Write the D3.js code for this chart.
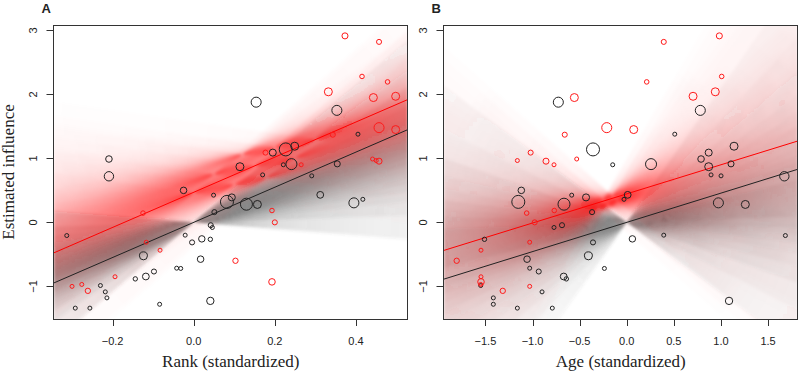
<!DOCTYPE html>
<html lang="en">
<head>
<meta charset="utf-8">
<title>Estimated influence vs rank and age</title>
<script src="https://cdn.jsdelivr.net/npm/d3@7"></script>
<style>
  body { margin: 0; background: #fff; }
  text { fill: #222; }
  .tick-label { font: 11px "Liberation Sans", Arial, sans-serif; }
  .axis-title { font: 17px "Liberation Serif", "Times New Roman", serif; }
  .panel-label { font: bold 13px "Liberation Sans", Arial, sans-serif; }
</style>
</head>
<body>
<script>
// ---- individuals: estimated influence, standardized rank and age, group, weight ----
const influence = [
  0.99, 0.72, 0.50, 0.425, 0.32, 0.39, 0.284, 0.28, 0.43, 0.305,
  0.36, 0.16, -0.044, -0.08, -0.206, -0.20, -0.258, -0.265, -0.313, -0.523,
  -0.575, -0.716, -0.72, -0.768, -0.846, -0.883, -0.987, -1.086, -1.18, -1.34,
  -1.34, -1.28, -1.227, 1.878, 1.75, 1.378, 1.09, 1.14, 1.19, 0.90,
  0.91, 0.87, 0.742, 0.727, 0.914,
  0.145, 0.185, 0.0, -0.31, -0.435, -0.60, -0.85, -0.93, -1.0, -0.97,
  -1.07, 2.914, 2.82, 2.28, 2.195, 2.04, 1.95, 1.97, 1.48, 1.45,
  1.37, 1.09, 0.90, 0.99, 0.956, 0.966
];
const rank = [
  -0.209, -0.209, -0.025, 0.049, 0.082, 0.094, 0.130, 0.157, 0.312, 0.395,
  0.417, 0.051, 0.042, 0.046, -0.313, -0.021, 0.020, 0.041, -0.004, -0.124,
  0.017, -0.042, -0.032, -0.098, -0.118, -0.144, -0.230, -0.218, -0.214, -0.292,
  -0.256, -0.084, 0.041, 0.154, 0.353, 0.405, 0.195, 0.227, 0.249, 0.221,
  0.241, 0.114, 0.170, 0.291, 0.354,
  -0.125, 0.193, 0.200, -0.117, -0.083, 0.103, -0.194, 0.193, -0.300, -0.276,
  -0.261, 0.373, 0.457, 0.415, 0.478, 0.332, 0.443, 0.498, 0.457, 0.498,
  0.343, 0.177, 0.265, 0.441, 0.457, 0.450
];
const age = [
  0.789, 1.673, -1.119, -0.584, -1.151, -0.432, -0.666, 1.259, 0.010, 0.973,
  -0.029, -0.368, -0.687, -0.772, 1.684, 0.393, 0.060, -1.510, -0.358, -0.407,
  -1.058, -1.030, -0.237, -0.934, -0.669, -0.641, -1.550, -0.899, -1.416, -1.161,
  -0.790, -1.416, 1.086, -0.726, 0.781, 0.510, 0.870, -0.358, 1.139, -0.149,
  0.258, 0.870, 0.895, 1.001, 1.107,
  -1.062, -0.769, -0.977, -1.030, -1.547, -1.805, -1.547, -1.547, -1.030, -1.550,
  -1.316, 0.983, 0.393, 1.008, 0.212, 0.940, -0.556, 0.704, -0.212, 0.074,
  -0.658, -1.020, -0.772, -0.531, -0.857, -1.161
];
const group = [
  0,0,0,0,0,0,0,0,0,0, 0,0,0,0,0,0,0,0,0,0, 0,0,0,0,0,0,0,0,0,0,
  0,0,0,0,0,0,0,0,0,0, 0,0,0,0,0,
  1,1,1,1,1,1,1,1,1,1, 1,1,1,1,1,1,1,1,1,1, 1,1,1,1,1,1
];
const weight = [
  2.7, 5.5, 2.7, 1, 10.6, 3.1, 9, 4, 2.9, 6.3,
  1, 1.6, 1.6, 1, 1, 1, 2.6, 1.2, 1.6, 4,
  2.7, 1, 1, 1.6, 2.9, 1.2, 1, 1, 1, 1,
  1, 1, 3.4, 6.3, 6.3, 1, 3.1, 10.6, 4, 1,
  7.6, 4, 1, 1, 2.3,
  1.3, 1.3, 1.6, 1, 1, 1.8, 1, 2.7, 1, 1,
  1.8, 2.3, 1.6, 1.3, 1.3, 4, 4, 4, 6.3, 4,
  1.6, 1.6, 1, 1, 2.3, 1
];

// ---- fitted lines [intercept, slope] ----
const rankFitBlack = [0, 2.745];
const rankFitRed = [0.47, 2.745];
const ageFitBlack = [0, 0.457];
const ageFitRed = [0.445, 0.455];

// ---- posterior slope draws (sorted) for the fans ----
const rankSlopesBlack = [-0.5, 0.2, 0.6, 0.9, 1.12, 1.3, 1.45, 1.58, 1.7, 1.8, 1.9, 1.99, 2.08, 2.16, 2.24,
  2.32, 2.4, 2.48, 2.57, 2.66, 2.76, 2.87, 2.99, 3.12, 3.28, 3.46, 3.7, 4.0, 4.5, 5.4];
const rankSlopesRed = [-0.9, -0.1, 0.4, 0.75, 1.0, 1.2, 1.36, 1.5, 1.62, 1.73, 1.83, 1.92, 2.01, 2.1, 2.18,
  2.27, 2.36, 2.45, 2.55, 2.65, 2.76, 2.88, 3.01, 3.16, 3.34, 3.56, 3.82, 4.2, 4.7, 5.6];
const ageSlopesBlack = [-1.1, -0.75, -0.52, -0.38, -0.27, -0.18, -0.11, -0.05, 0.0, 0.05, 0.09, 0.13, 0.17, 0.21, 0.25,
  0.29, 0.33, 0.37, 0.42, 0.47, 0.52, 0.58, 0.65, 0.73, 0.83, 0.95, 1.1, 1.3, 1.6, 2.1];
const ageSlopesRed = [-1.3, -0.85, -0.55, -0.35, -0.2, -0.09, 0.0, 0.07, 0.14, 0.2, 0.26, 0.31, 0.36, 0.41, 0.46,
  0.51, 0.56, 0.61, 0.67, 0.73, 0.8, 0.87, 0.95, 1.04, 1.15, 1.28, 1.45, 1.7, 2.0, 2.5];
// points the lines of each fan turn around
const rankPivotsBlack = [[0, 0]];
const rankPivotsRed = [[0.0, 0.46], [0.05, 0.75], [0.1, 0.59], [0.15, 0.88], [0.2, 1.17],
  [0.25, 1.01], [0.3, 1.30], [0.12, 1.06], [0.18, 0.70]];
const agePivotsBlack = [[0, 0]];
const agePivotsRed = [[-0.3, 0.24], [-0.25, 0.36], [-0.2, 0.28], [-0.15, 0.42], [-0.1, 0.34]];

const yTicks = [-1, 0, 1, 2, 3];
const rankTicks = [-0.2, 0, 0.2, 0.4];
const ageTicks = [-1.5, -1, -0.5, 0, 0.5, 1, 1.5];

// ---- layout ----
const width = 800, height = 374;
const svg = d3.select("body").append("svg")
    .attr("width", width)
    .attr("height", height);
svg.append("rect").attr("width", width).attr("height", height).attr("fill", "#fff");
const defs = svg.append("defs");

const y = d3.scaleLinear().domain([-1.51, 3.084]).range([319, 25]);
const radius = d3.scaleSqrt().domain([0, 1]).range([0, 2]);
const colors = ["#222", "#ff1a1a"];

const panels = [
  { key: "A", xs: rank, domain: [-0.3457, 0.5284], range: [53.5, 408], ticks: rankTicks,
    title: "Rank (standardized)", fitBlack: rankFitBlack, fitRed: rankFitRed,
    fans: [
      { slopes: rankSlopesBlack, pivots: rankPivotsBlack, color: "#4a4a4a", maxOp: 0.85, K: 65 },
      { slopes: rankSlopesRed, pivots: rankPivotsRed, color: "#ff0000", maxOp: 0.75, K: 65 }
    ] },
  { key: "B", xs: age, domain: [-1.945, 1.818], range: [443.5, 798], ticks: ageTicks,
    title: "Age (standardized)", fitBlack: ageFitBlack, fitRed: ageFitRed,
    fans: [
      { slopes: ageSlopesBlack, pivots: agePivotsBlack, color: "#4a4a4a", maxOp: 0.85, K: 65 },
      { slopes: ageSlopesRed, pivots: agePivotsRed, color: "#ff0000", maxOp: 0.65, K: 65 }
    ] }
];

const radii = [0, 1, 2, 4, 7, 11, 16, 23, 32, 45, 62, 85, 115, 155, 210, 280, 370, 480];
const R = 480;

// a fan of lines through each pivot, drawn as wedges between neighbouring slopes
function drawFan(g, x, fan, id) {
  const f = (y(0) - y(1)) / (x(1) - x(0));
  const [xa, xb] = x.domain();
  const n = fan.slopes.length;
  const m = fan.pivots.length;
  fan.pivots.forEach(([px, py], j) => {
    const cx = x(px), cy = y(py);
    d3.pairs(fan.slopes).forEach(([s1, s2], i) => {
      const dens = 1 / ((n - 1) * m * (s2 - s1) * f);
      const gid = `${id}-${j}-${i}`;
      const grad = defs.append("radialGradient")
          .attr("id", gid)
          .attr("gradientUnits", "userSpaceOnUse")
          .attr("cx", cx).attr("cy", cy).attr("r", R);
      radii.forEach(r => {
        grad.append("stop")
            .attr("offset", r / R)
            .attr("stop-color", fan.color)
            .attr("stop-opacity", r === 0 ? fan.maxOp : fan.maxOp * (1 - Math.exp(-fan.K * dens / r)));
      });
      const tri = xe => `M${cx},${cy}L${x(xe)},${y(py + s1 * (xe - px))}L${x(xe)},${y(py + s2 * (xe - px))}Z`;
      g.append("path").attr("d", tri(xa) + tri(xb)).attr("fill", `url(#${gid})`);
    });
  });
}

panels.forEach(p => {
  const x = d3.scaleLinear().domain(p.domain).range(p.range);
  const [x0, x1] = p.range;
  const [yb, yt] = y.range();

  defs.append("clipPath").attr("id", "clip" + p.key)
    .append("rect").attr("x", x0).attr("y", yt).attr("width", x1 - x0).attr("height", yb - yt);
  defs.append("filter").attr("id", "soft" + p.key)
      .attr("filterUnits", "userSpaceOnUse")
      .attr("x", x0 - 10).attr("y", yt - 10).attr("width", x1 - x0 + 20).attr("height", yb - yt + 20)
    .append("feGaussianBlur").attr("stdDeviation", 1.5);

  const plot = svg.append("g").attr("clip-path", `url(#clip${p.key})`);
  const fans = plot.append("g").attr("filter", `url(#soft${p.key})`);
  p.fans.forEach((fan, k) => drawFan(fans.append("g"), x, fan, `fan${p.key}${k}`));

  // fitted lines
  [[p.fitBlack, colors[0]], [p.fitRed, "#ff0000"]].forEach(([fit, c]) => {
    plot.append("line")
        .attr("x1", x0).attr("y1", y(fit[0] + fit[1] * p.domain[0]))
        .attr("x2", x1).attr("y2", y(fit[0] + fit[1] * p.domain[1]))
        .attr("stroke", c)
        .attr("stroke-width", 1);
  });

  // points
  plot.append("g").selectAll("circle")
    .data(d3.range(influence.length))
    .enter().append("circle")
      .attr("cx", i => x(p.xs[i]))
      .attr("cy", i => y(influence[i]))
      .attr("r", i => radius(weight[i]))
      .attr("fill", "none")
      .attr("stroke", i => colors[group[i]])
      .attr("stroke-width", 1);

  // box
  svg.append("rect")
      .attr("x", x0).attr("y", yt + 0.5)
      .attr("width", x1 - x0 - 0.5).attr("height", yb - yt)
      .attr("fill", "none")
      .attr("stroke", "#333")
      .attr("stroke-width", 1);

  // y axis
  const yAxis = svg.append("g");
  yTicks.forEach(t => {
    yAxis.append("line")
        .attr("x1", x0 - 7).attr("x2", x0)
        .attr("y1", Math.round(y(t)) + 0.5).attr("y2", Math.round(y(t)) + 0.5)
        .attr("stroke", "#333");
    yAxis.append("text")
        .attr("class", "tick-label")
        .attr("transform", `translate(${x0 - 16.5},${y(t)}) rotate(-90)`)
        .attr("text-anchor", "middle")
        .text(d3.format("d")(t));
  });

  // x axis
  const xAxis = svg.append("g");
  p.ticks.forEach(t => {
    xAxis.append("line")
        .attr("x1", Math.round(x(t)) + 0.5).attr("x2", Math.round(x(t)) + 0.5)
        .attr("y1", yb).attr("y2", yb + 7)
        .attr("stroke", "#333");
    xAxis.append("text")
        .attr("class", "tick-label")
        .attr("x", x(t)).attr("y", 344.5)
        .attr("text-anchor", "middle")
        .text(d3.format(".1f")(t));
  });

  svg.append("text")
      .attr("class", "axis-title")
      .attr("x", (x0 + x1) / 2).attr("y", 367)
      .attr("text-anchor", "middle")
      .text(p.title);

  svg.append("text")
      .attr("class", "panel-label")
      .attr("x", x0 - 12).attr("y", 12.5)
      .text(p.key);
});

svg.append("text")
    .attr("class", "axis-title")
    .attr("transform", `translate(13.5,${(y.range()[0] + y.range()[1]) / 2}) rotate(-90)`)
    .attr("text-anchor", "middle")
    .text("Estimated influence");
</script>
</body>
</html>
